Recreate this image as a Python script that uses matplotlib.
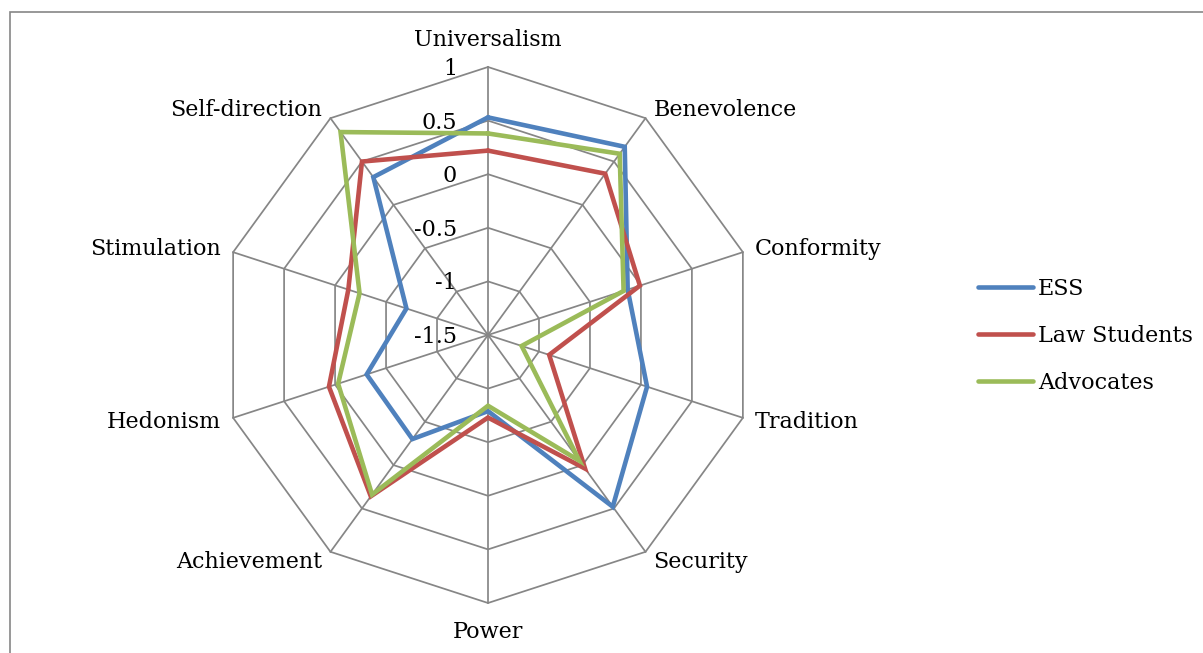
import matplotlib
matplotlib.use('Agg')
import matplotlib.pyplot as plt
from matplotlib.patches import Rectangle
import numpy as np

# values (scale -1.5 .. 1)
categories = ['Universalism', 'Benevolence', 'Conformity', 'Tradition', 'Security',
              'Power', 'Achievement', 'Hedonism', 'Stimulation', 'Self-direction']
ess = [0.53, 0.67, -0.13, 0.06, 0.48, -0.79, -0.30, -0.31, -0.70, 0.32]
law_students = [0.22, 0.36, -0.01, -0.90, 0.04, -0.73, 0.36, 0.06, -0.13, 0.50]
advocates = [0.38, 0.59, -0.17, -1.17, -0.05, -0.84, 0.34, -0.03, -0.24, 0.84]
tick_values = [1, 0.5, 0, -0.5, -1, -1.5]
tick_labels = ['1', '0.5', '0', '-0.5', '-1', '-1.5']

series_names = ['ESS', 'Law Students', 'Advocates']
series_colours = ['#4F81BD', '#C0504D', '#9BBB59']

plt.rcParams['font.family'] = ['DejaVu Serif']
FontSize = 16
GridColour = '#868686'

W, H = 1203, 653
fig = plt.figure(figsize=(W / 100, H / 100), dpi=100)

# outer chart frame (cut at right and bottom edge in the reference)
fig.patches.append(Rectangle((10 / W, -0.1), 1.2, (H - 12) / H + 0.1, transform=fig.transFigure,
                             fill=False, edgecolor=GridColour, linewidth=1.2))

cx, cy, R = 488, 335, 268
ax = fig.add_axes([(cx - R) / W, (H - cy - R) / H, 2 * R / W, 2 * R / H], projection='polar')
ax.set_theta_zero_location('N')
ax.set_theta_direction(-1)
ax.set_ylim(tick_values[-1], tick_values[0])
ax.grid(False)
ax.spines['polar'].set_visible(False)
ax.set_xticks([])
ax.set_yticks([])
ax.patch.set_visible(False)

n = len(categories)
angles = np.arange(n) * 2 * np.pi / n
closed = np.append(angles, angles[0])

# polygon grid rings and spokes
for v in tick_values[:-1]:
    ax.plot(closed, [v] * (n + 1), color=GridColour, linewidth=1.25, clip_on=False, zorder=1)
for a in angles:
    ax.plot([a, a], [tick_values[-1], tick_values[0]], color=GridColour, linewidth=1.25, clip_on=False, zorder=1)

# data series
for vals, name, col in zip([ess, law_students, advocates], series_names, series_colours):
    ax.plot(closed, vals + vals[:1], color=col, linewidth=3.3, label=name,
            solid_joinstyle='miter', solid_capstyle='round', clip_on=False, zorder=3)

# radial value labels next to the top spoke
for v, lab in zip(tick_values, tick_labels):
    ax.annotate(lab, xy=(0, v), xytext=(-31, -2), textcoords='offset pixels',
                ha='right', va='center', fontsize=FontSize, annotation_clip=False)

# category labels around the outside
offsets = [(0, 27), (8, 8), (12, 3), (12, -4), (8, -10),
           (0, -29), (-8, -10), (-12, -4), (-12, 3), (-8, 8)]
for a, cat, off in zip(angles, categories, offsets):
    if off[0] > 0:
        ha = 'left'
    elif off[0] < 0:
        ha = 'right'
    else:
        ha = 'center'
    ax.annotate(cat, xy=(a, tick_values[0]), xytext=off, textcoords='offset pixels',
                ha=ha, va='center', fontsize=FontSize, annotation_clip=False)

fig.legend(loc='center left', bbox_to_anchor=(958 / W, (H - 336) / H), frameon=False,
           fontsize=FontSize, handlelength=2.48, handletextpad=0.22, labelspacing=1.12)

fig.savefig('out.png', dpi=100)
